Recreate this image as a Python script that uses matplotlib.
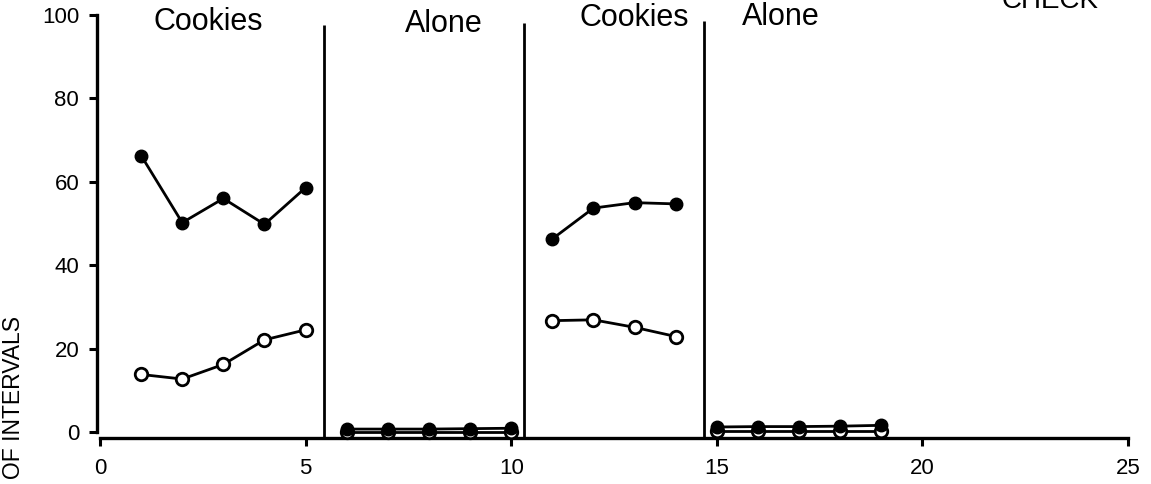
import matplotlib.pyplot as plt

plt.rcParams['font.family'] = ['Liberation Sans', 'DejaVu Sans']

# sessions and % of intervals, one list per phase
sess_cookies1 = [1, 2, 3, 4, 5]
filled_cookies1 = [66.3, 50.2, 56.0, 49.8, 58.6]
open_cookies1 = [13.8, 12.7, 16.2, 22.1, 24.5]

sess_alone1 = [6, 7, 8, 9, 10]
filled_alone1 = [0.7, 0.7, 0.7, 0.8, 0.9]
open_alone1 = [0.0, 0.0, 0.0, 0.0, 0.0]

sess_cookies2 = [11, 12, 13, 14]
filled_cookies2 = [46.3, 53.7, 55.0, 54.7]
open_cookies2 = [26.7, 26.9, 25.1, 22.9]

sess_alone2 = [15, 16, 17, 18, 19]
filled_alone2 = [1.2, 1.3, 1.3, 1.4, 1.6]
open_alone2 = [0.2, 0.2, 0.2, 0.2, 0.2]

phase_lines = [5.45, 10.3, 14.7]
phase_names = ["Cookies", "Alone", "Cookies", "Alone"]
phase_label_x = [2.63, 8.37, 13.0, 16.55]
phase_label_y = [98.3, 97.8, 99.3, 99.5]

fig = plt.figure(figsize=(11.51, 4.84), dpi=100)
ax = fig.add_axes([100 / 1151, 52 / 484, 1028 / 1151, 417 / 484])

for xs, fy, oy in [(sess_cookies1, filled_cookies1, open_cookies1),
                   (sess_alone1, filled_alone1, open_alone1),
                   (sess_cookies2, filled_cookies2, open_cookies2),
                   (sess_alone2, filled_alone2, open_alone2)]:
    ax.plot(xs, oy, '-o', color='black', lw=2, ms=9, mfc='white',
            mec='black', mew=2, clip_on=False, zorder=3)
    ax.plot(xs, fy, '-o', color='black', lw=2, ms=9, mfc='black',
            mec='black', clip_on=False, zorder=4)

# phase change lines
tops = [97.5, 98, 98.5]
for x, top in zip(phase_lines, tops):
    ax.vlines(x, -1.5, top, color='black', lw=2, clip_on=False)

for name, x, y in zip(phase_names, phase_label_x, phase_label_y):
    ax.text(x, y, name, ha='center', va='center', fontsize=22)

ax.set_xlim(0, 25)
ax.set_ylim(0, 100)
ax.set_xticks([0, 5, 10, 15, 20, 25])
ax.set_yticks([0, 20, 40, 60, 80, 100])

for side in ['top', 'right']:
    ax.spines[side].set_visible(False)
ax.spines['left'].set_position(('outward', 2))
ax.spines['bottom'].set_position(('outward', 4.5))
ax.spines['left'].set_linewidth(2.4)
ax.spines['bottom'].set_linewidth(2.4)
ax.tick_params(axis='both', length=6, width=2.2, pad=7, labelsize=16)
ax.tick_params(axis='x', pad=8)

fig.text(14 / 1151, 1 - 316 / 484, "% OF INTERVALS", rotation=90,
         ha='center', va='top', fontsize=16.5)
fig.text(1050 / 1151, 1 - 8 / 484, "CHECK", ha='center', va='baseline',
         fontsize=20)

fig.savefig("out.png", dpi=100)
